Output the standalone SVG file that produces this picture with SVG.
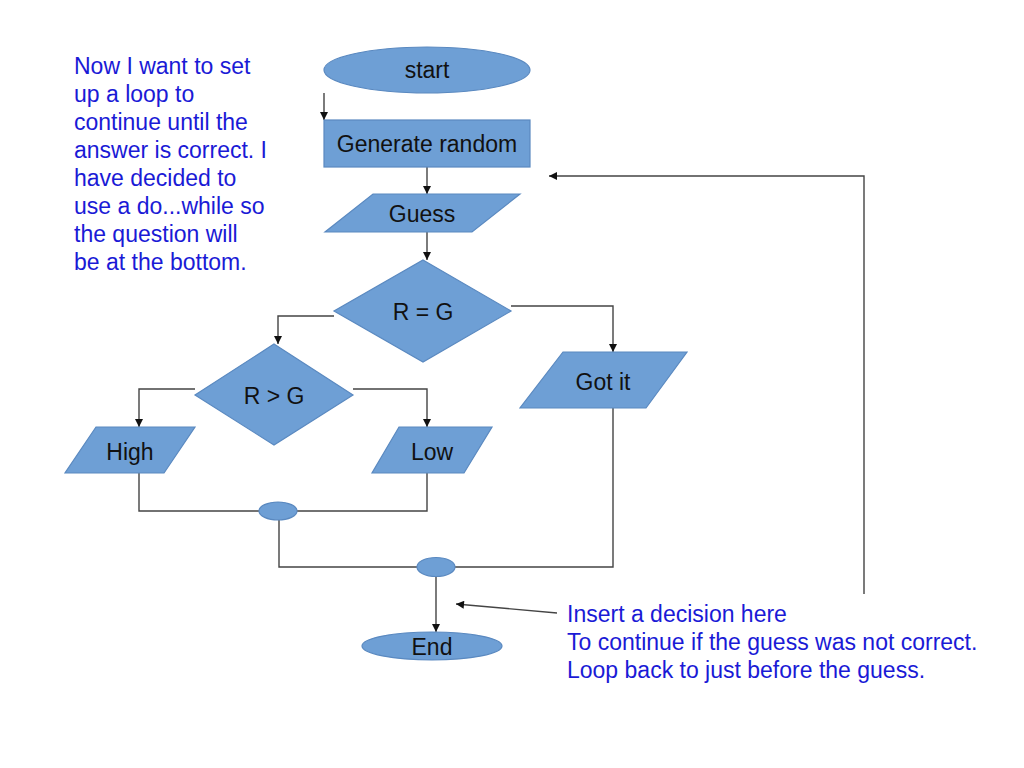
<svg xmlns="http://www.w3.org/2000/svg" width="1024" height="768" viewBox="0 0 1024 768">
<defs>
<style>
.shape{fill:#6e9fd5;stroke:#5a89c0;stroke-width:1.2}
.lbl{font-family:"Liberation Sans",Arial,sans-serif;font-size:23px;fill:#111;text-anchor:middle}
.note{font-family:"Liberation Sans",Arial,sans-serif;font-size:23px;fill:#1a1ad6}
.con{fill:none;stroke:#444;stroke-width:1.4}
</style>
<marker id="ah" viewBox="0 0 10 10" refX="10" refY="5" markerWidth="9" markerHeight="8" markerUnits="userSpaceOnUse" orient="auto">
<path d="M0,0 L10,5 L0,10 z" fill="#111"/>
</marker>
</defs>
<rect width="1024" height="768" fill="#fff"/>

<g id="note-top">
<text class="note" x="74" y="74">Now I want to set</text>
<text class="note" x="74" y="102">up a loop to</text>
<text class="note" x="74" y="130">continue until the</text>
<text class="note" x="74" y="158">answer is correct. I</text>
<text class="note" x="74" y="186">have decided to</text>
<text class="note" x="74" y="214">use a do...while so</text>
<text class="note" x="74" y="242">the question will</text>
<text class="note" x="74" y="270">be at the bottom.</text>
</g>

<g id="note-bottom">
<text class="note" x="567" y="622">Insert a decision here</text>
<text class="note" x="567" y="650">To continue if the guess was not correct.</text>
<text class="note" x="567" y="678">Loop back to just before the guess.</text>
</g>

<g id="connectors">
<path class="con" d="M324,93 V120" marker-end="url(#ah)"/>
<path class="con" d="M427,167 V194" marker-end="url(#ah)"/>
<path class="con" d="M427,232 V260" marker-end="url(#ah)"/>
<path class="con" d="M334,316 H278 V344" marker-end="url(#ah)"/>
<path class="con" d="M511,306 H613 V352" marker-end="url(#ah)"/>
<path class="con" d="M195,389 H139 V427" marker-end="url(#ah)"/>
<path class="con" d="M353,389 H427 V427" marker-end="url(#ah)"/>
<path class="con" d="M139,473 V511 H259"/>
<path class="con" d="M297,511 H427 V473"/>
<path class="con" d="M279,520 V567 H417"/>
<path class="con" d="M455,567 H613 V408"/>
<path class="con" d="M436,576 V632" marker-end="url(#ah)"/>
<path class="con" d="M864,594 V176 H549" marker-end="url(#ah)"/>
<path class="con" d="M557,613 L456,604" marker-end="url(#ah)"/>
</g>

<g id="start">
<ellipse class="shape" cx="427" cy="70" rx="103" ry="23"/>
<text class="lbl" x="427" y="78">start</text>
</g>
<g id="generate">
<rect class="shape" x="324" y="120" width="206" height="47"/>
<text class="lbl" x="427" y="152">Generate random</text>
</g>
<g id="guess">
<polygon class="shape" points="373,194 520,194 472,232 325,232"/>
<text class="lbl" x="422" y="222">Guess</text>
</g>
<g id="req">
<polygon class="shape" points="423,260 511,311 423,362 334,311"/>
<text class="lbl" x="423" y="320">R = G</text>
</g>
<g id="rgt">
<polygon class="shape" points="274,344 353,395 274,445 195,395"/>
<text class="lbl" x="274" y="404">R &gt; G</text>
</g>
<g id="high">
<polygon class="shape" points="96,427 195,427 164,473 65,473"/>
<text class="lbl" x="130" y="460">High</text>
</g>
<g id="low">
<polygon class="shape" points="399,427 492,427 464,473 372,473"/>
<text class="lbl" x="432" y="460">Low</text>
</g>
<g id="gotit">
<polygon class="shape" points="563,352 687,352 646,408 520,408"/>
<text class="lbl" x="603" y="390">Got it</text>
</g>
<g id="join1">
<ellipse class="shape" cx="278" cy="511" rx="19" ry="9"/>
</g>
<g id="join2">
<ellipse class="shape" cx="436" cy="567" rx="19" ry="9.5"/>
</g>
<g id="end">
<ellipse class="shape" cx="432" cy="646" rx="70" ry="14"/>
<text class="lbl" x="432" y="655">End</text>
</g>
</svg>
